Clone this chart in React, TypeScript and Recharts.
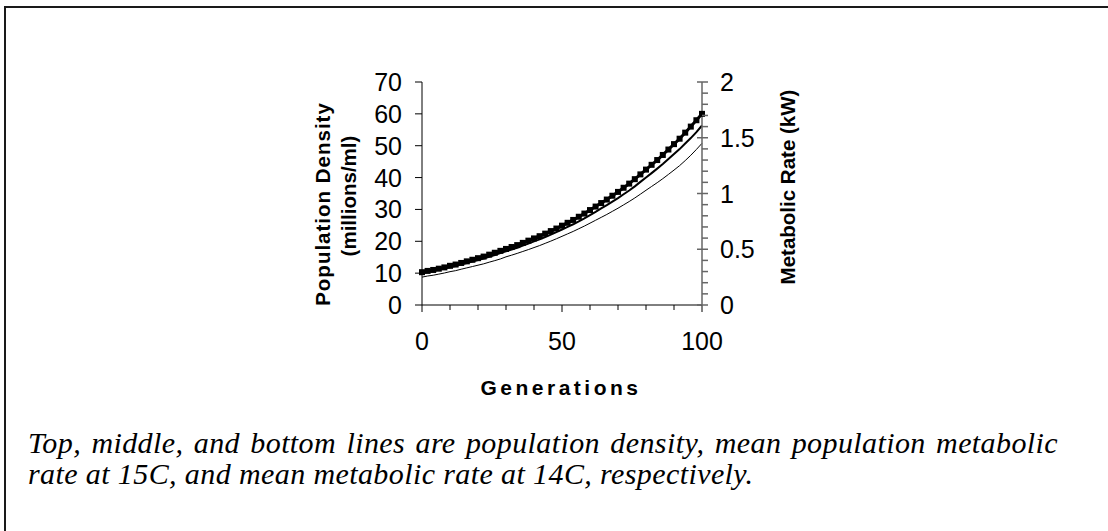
import { LineChart, Line, XAxis, YAxis, Label } from 'recharts';

// generations sampled every 2
const generations = [
  0, 2, 4, 6, 8, 10, 12, 14, 16, 18, 20, 22, 24, 26, 28, 30, 32, 34, 36, 38, 40, 42, 44, 46, 48, 50,
  52, 54, 56, 58, 60, 62, 64, 66, 68, 70, 72, 74, 76, 78, 80, 82, 84, 86, 88, 90, 92, 94, 96, 98, 100,
];

// top line: population density (millions/ml), left axis
const density = [
  10.3, 10.7, 11.0, 11.4, 11.8, 12.3, 12.7, 13.2, 13.7, 14.2, 14.7, 15.2, 15.8, 16.4, 17.0, 17.6,
  18.2, 18.8, 19.5, 20.2, 20.9, 21.6, 22.4, 23.2, 24.0, 24.9, 25.8, 26.7, 27.7, 28.7, 29.8, 30.9,
  32.0, 33.1, 34.3, 35.5, 36.8, 38.1, 39.5, 41.0, 42.5, 44.0, 45.5, 47.1, 48.8, 50.5, 52.2, 54.1,
  56.0, 58.0, 60.0,
];

// middle line: mean population metabolic rate at 15C (kW), right axis
const rate15 = [
  0.285, 0.296, 0.304, 0.315, 0.326, 0.339, 0.35, 0.364, 0.377, 0.39, 0.404, 0.417, 0.433, 0.449,
  0.465, 0.481, 0.497, 0.513, 0.532, 0.55, 0.57, 0.589, 0.61, 0.631, 0.653, 0.677, 0.7, 0.724,
  0.751, 0.777, 0.806, 0.835, 0.866, 0.895, 0.927, 0.958, 0.993, 1.027, 1.064, 1.104, 1.143, 1.183,
  1.223, 1.264, 1.309, 1.354, 1.398, 1.448, 1.497, 1.55, 1.61,
];

// bottom line: mean metabolic rate at 14C (kW), right axis
const rate14 = [
  0.25, 0.26, 0.267, 0.277, 0.287, 0.299, 0.308, 0.321, 0.333, 0.345, 0.357, 0.369, 0.384, 0.398,
  0.413, 0.432, 0.447, 0.463, 0.48, 0.497, 0.515, 0.533, 0.553, 0.573, 0.594, 0.616, 0.638, 0.66,
  0.684, 0.708, 0.734, 0.76, 0.786, 0.812, 0.84, 0.868, 0.898, 0.928, 0.96, 0.994, 1.029, 1.063,
  1.097, 1.133, 1.171, 1.21, 1.25, 1.295, 1.343, 1.395, 1.45,
];

const xTicks = [0, 10, 20, 30, 40, 50, 60, 70, 80, 90, 100];
const xLabels = [0, 50, 100];
const leftTicks = [0, 10, 20, 30, 40, 50, 60, 70];
const rightTicks = [
  0, 0.1, 0.2, 0.3, 0.4, 0.5, 0.6, 0.7, 0.8, 0.9, 1, 1.1, 1.2, 1.3, 1.4, 1.5, 1.6, 1.7, 1.8, 1.9, 2,
];
const rightLabels = [0, 0.5, 1, 1.5, 2];

const SANS = '"Liberation Sans", Arial, sans-serif';
const SERIF = '"Liberation Serif", "Times New Roman", serif';
const RIGHT_AXIS = '#666';

const rows = generations.map((g, i) => ({
  g,
  density: density[i],
  rate15: rate15[i],
  rate14: rate14[i],
}));

function XTick({ x, y, payload }: any) {
  const major = xLabels.includes(payload.value);
  return (
    <g>
      <line x1={x} x2={x} y1={y} y2={y + (major ? 7 : 5)} stroke="#000" />
      {major && (
        <text x={x} y={y + 45} textAnchor="middle" fontSize={25} fontFamily={SANS} fill="#000">
          {payload.value}
        </text>
      )}
    </g>
  );
}

function LeftTick({ x, y, payload }: any) {
  return (
    <g>
      <line x1={x - 7} x2={x} y1={y} y2={y} stroke="#000" />
      <text x={x - 20} y={y + 9} textAnchor="end" fontSize={25} fontFamily={SANS} fill="#000">
        {payload.value}
      </text>
    </g>
  );
}

function RightTick({ x, y, payload }: any) {
  const major = rightLabels.some((v) => Math.abs(v - payload.value) < 1e-6);
  return (
    <g>
      <line
        x1={major ? x - 5 : x}
        x2={x + 6}
        y1={y}
        y2={y}
        stroke={RIGHT_AXIS}
        strokeWidth={1.5}
      />
      {major && (
        <text x={x + 18} y={y + 9} fontSize={25} fontFamily={SANS} fill="#000">
          {payload.value}
        </text>
      )}
    </g>
  );
}

function DensityDot({ cx, cy, index }: any) {
  return <rect key={index} x={cx - 3} y={cy - 3} width={6} height={6} fill="#000" />;
}

export default function App() {
  return (
    <div
      style={{
        position: 'absolute',
        left: 0,
        top: 0,
        width: 1108,
        height: 531,
        background: '#fff',
        overflow: 'hidden',
      }}
    >
      {/* frame, only top and left edges fall inside the picture */}
      <div
        style={{
          position: 'absolute',
          left: 4,
          top: 6,
          right: -10,
          bottom: -10,
          borderTop: '2px solid #1a1a1a',
          borderLeft: '2px solid #1a1a1a',
        }}
      />

      <div style={{ position: 'absolute', left: 0, top: 0 }}>
        <LineChart
          width={1108}
          height={531}
          data={rows}
          margin={{ top: 82, right: 0, bottom: 111, left: 0 }}
        >
          <XAxis
            dataKey="g"
            type="number"
            domain={[0, 100]}
            ticks={xTicks}
            interval={0}
            height={115}
            tickSize={0}
            tickMargin={0}
            tickLine={false}
            axisLine={{ stroke: '#000' }}
            tick={<XTick />}
          >
            <Label
              content={() => (
                <text
                  x={561}
                  y={395}
                  textAnchor="middle"
                  fontSize={21}
                  fontWeight="bold"
                  letterSpacing={3.5}
                  fontFamily={SANS}
                  fill="#000"
                >
                  Generations
                </text>
              )}
            />
          </XAxis>
          <YAxis
            yAxisId="left"
            orientation="left"
            domain={[0, 70]}
            ticks={leftTicks}
            interval={0}
            width={422}
            tickSize={0}
            tickMargin={0}
            tickLine={false}
            axisLine={{ stroke: '#000' }}
            tick={<LeftTick />}
          >
            <Label
              content={() => (
                <g fontFamily={SANS} fontSize={20.5} fontWeight="bold" fill="#000">
                  <text
                    x={330}
                    y={204}
                    textAnchor="middle"
                    letterSpacing={1}
                    transform="rotate(-90 330 204)"
                  >
                    Population Density
                  </text>
                  <text x={356} y={196} textAnchor="middle" transform="rotate(-90 356 196)">
                    (millions/ml)
                  </text>
                </g>
              )}
            />
          </YAxis>
          <YAxis
            yAxisId="right"
            orientation="right"
            domain={[0, 2]}
            ticks={rightTicks}
            interval={0}
            width={406}
            tickSize={0}
            tickMargin={0}
            tickLine={false}
            axisLine={{ stroke: RIGHT_AXIS, strokeWidth: 1.5 }}
            tick={<RightTick />}
          >
            <Label
              content={() => (
                <text
                  x={795}
                  y={187}
                  textAnchor="middle"
                  transform="rotate(-90 795 187)"
                  fontFamily={SANS}
                  fontSize={20.5}
                  fontWeight="bold"
                  fill="#000"
                >
                  Metabolic Rate (kW)
                </text>
              )}
            />
          </YAxis>

          <Line
            yAxisId="right"
            dataKey="rate14"
            type="linear"
            stroke="#000"
            strokeWidth={1}
            dot={false}
            isAnimationActive={false}
          />
          <Line
            yAxisId="right"
            dataKey="rate15"
            type="linear"
            stroke="#000"
            strokeWidth={2}
            dot={false}
            isAnimationActive={false}
          />
          <Line
            yAxisId="left"
            dataKey="density"
            type="linear"
            stroke="#000"
            strokeWidth={3}
            dot={<DensityDot />}
            isAnimationActive={false}
          />
        </LineChart>
      </div>

      <div
        style={{
          position: 'absolute',
          left: 28,
          top: 427,
          width: 1030,
          fontFamily: SERIF,
          fontStyle: 'italic',
          fontSize: 30,
          letterSpacing: 0.4,
          lineHeight: '31px',
          color: '#000',
        }}
      >
        <div style={{ textAlign: 'justify', textAlignLast: 'justify', whiteSpace: 'nowrap' }}>
          Top, middle, and bottom lines are population density, mean population metabolic
        </div>
        <div>rate at 15C, and mean metabolic rate at 14C, respectively.</div>
      </div>
    </div>
  );
}
